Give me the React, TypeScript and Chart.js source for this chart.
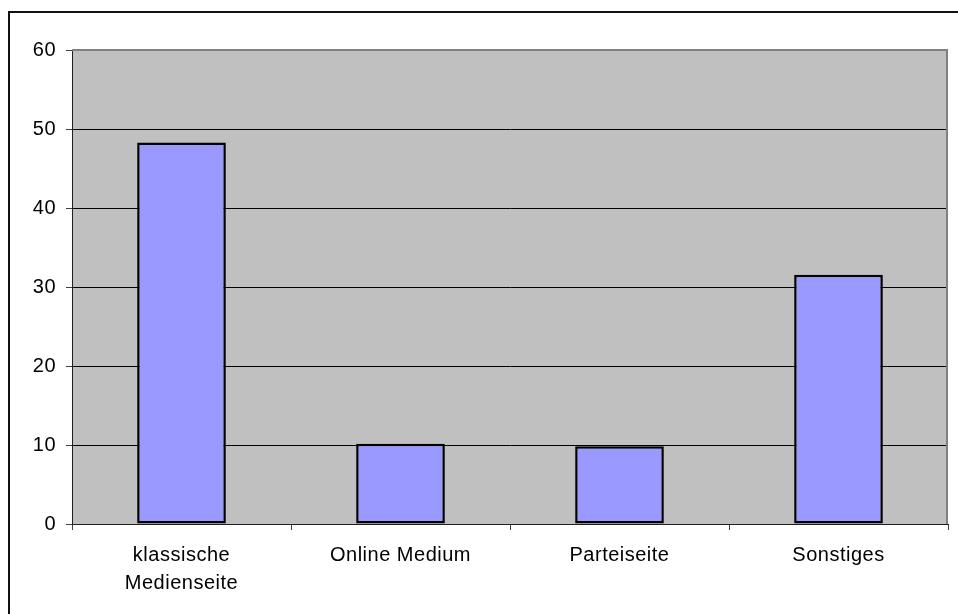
import React, { useEffect, useRef } from "react";
import { Chart, registerables } from "chart.js";

Chart.register(...registerables);

const categories: (string | string[])[] = [
  ["klassische", "Medienseite"],
  "Online Medium",
  "Parteiseite",
  "Sonstiges",
];
const values: number[] = [48.3, 10.15, 9.85, 31.55];
const yMin = 0;
const yMax = 60;
const yStep = 10;

const FONT = "'Liberation Sans', Arial, sans-serif";
const SPACING = "0.5px";

const plotPlugin = {
  id: "plotPlugin",
  beforeLayout(chart: any) {
    chart.ctx.letterSpacing = SPACING;
  },
  beforeDraw(chart: any) {
    const { ctx, chartArea } = chart;
    ctx.letterSpacing = SPACING;
    ctx.save();
    ctx.fillStyle = "#c0c0c0";
    ctx.fillRect(chartArea.left, chartArea.top, chartArea.right - chartArea.left, chartArea.bottom - chartArea.top);
    ctx.restore();
  },
  beforeDatasetsDraw(chart: any) {
    const { ctx, chartArea } = chart;
    ctx.save();
    ctx.strokeStyle = "#808080";
    ctx.lineWidth = 2;
    ctx.beginPath();
    ctx.moveTo(chartArea.left, chartArea.top);
    ctx.lineTo(chartArea.right - 1, chartArea.top);
    ctx.lineTo(chartArea.right - 1, chartArea.bottom);
    ctx.stroke();
    ctx.restore();
  },
};

export default function App() {
  const ref = useRef<HTMLCanvasElement | null>(null);

  useEffect(() => {
    if (!ref.current) return;
    const chart = new Chart(ref.current, {
      type: "bar",
      data: {
        labels: categories,
        datasets: [
          {
            data: values,
            backgroundColor: "#9999ff",
            borderColor: "#000000",
            borderWidth: 2.5,
            borderSkipped: false,
            categoryPercentage: 1,
            barPercentage: 0.405,
          },
        ],
      },
      options: {
        animation: false,
        responsive: false,
        maintainAspectRatio: false,
        layout: { padding: { top: 50, right: 10, left: 0, bottom: 0 } },
        plugins: {
          legend: { display: false },
          tooltip: { enabled: false },
          title: { display: false },
        },
        scales: {
          x: {
            grid: {
              display: true,
              offset: true,
              drawOnChartArea: false,
              drawTicks: true,
              tickLength: 6,
              tickColor: "#404040",
            },
            border: { display: true, color: "#202020", width: 1 },
            ticks: {
              color: "#000",
              padding: 11,
              maxRotation: 0,
              autoSkip: false,
              font: { family: FONT, size: 20, lineHeight: "28px" },
            },
            afterFit(scale: any) {
              scale.height = 90;
            },
          },
          y: {
            min: yMin,
            max: yMax,
            grid: {
              color: (c: any) => (c.tick && c.tick.value === yMax ? "rgba(0,0,0,0)" : "#000"),
              lineWidth: 1,
              tickLength: 6,
              tickColor: "#404040",
            },
            border: { display: true, color: "#202020", width: 1 },
            ticks: {
              stepSize: yStep,
              color: "#000",
              padding: 10,
              font: { family: FONT, size: 20 },
            },
            afterFit(scale: any) {
              scale.width = 72;
            },
          },
        },
      },
      plugins: [plotPlugin],
    });
    return () => chart.destroy();
  }, []);

  return (
    <div
      style={{
        position: "fixed",
        left: 0,
        top: 0,
        width: 958,
        height: 614,
        overflow: "hidden",
        background: "#fff",
      }}
    >
      <div
        style={{
          position: "absolute",
          left: 8,
          top: 11,
          width: 2000,
          height: 2000,
          borderLeft: "2px solid #111",
          borderTop: "2px solid #111",
        }}
      />
      <canvas
        ref={ref}
        width={958}
        height={614}
        style={{ position: "absolute", left: 0, top: 0, width: 958, height: 614 }}
      />
    </div>
  );
}
